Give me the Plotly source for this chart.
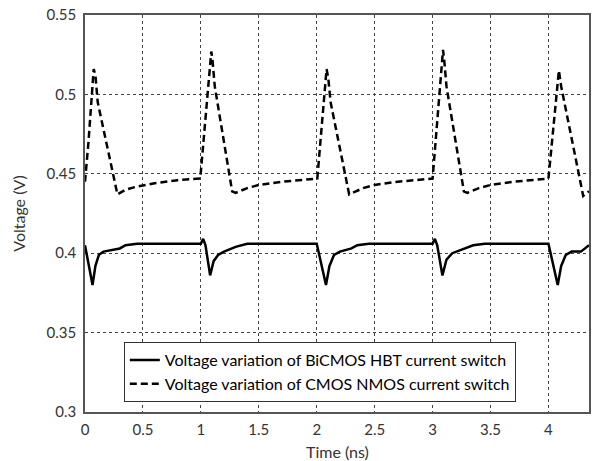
import plotly.graph_objects as go

# BiCMOS HBT current switch (solid)
hbt_t = [0.00, 0.065, 0.09, 0.12, 0.16, 0.25, 0.30, 0.35, 0.45, 1.00,
         1.02, 1.04, 1.08, 1.11, 1.15, 1.20, 1.30, 1.40, 2.00,
         2.08, 2.11, 2.15, 2.20, 2.30, 2.35, 2.45, 3.00,
         3.02, 3.04, 3.085, 3.12, 3.17, 3.25, 3.35, 3.45, 4.00,
         4.08, 4.11, 4.15, 4.20, 4.28, 4.35]
hbt_v = [0.405, 0.380, 0.392, 0.399, 0.401, 0.402, 0.403, 0.405, 0.406, 0.406,
         0.409, 0.405, 0.386, 0.395, 0.399, 0.401, 0.404, 0.406, 0.406,
         0.380, 0.392, 0.399, 0.401, 0.403, 0.405, 0.406, 0.406,
         0.409, 0.405, 0.386, 0.396, 0.400, 0.402, 0.405, 0.406, 0.406,
         0.380, 0.392, 0.399, 0.401, 0.401, 0.405]

# CMOS NMOS current switch (dashed)
nmos_t = [0.00, 0.03, 0.075, 0.09, 0.11, 0.28, 0.35, 0.45, 0.60, 0.80, 0.995,
          1.09, 1.10, 1.12, 1.27, 1.30, 1.40, 1.50, 1.70, 2.005,
          2.085, 2.10, 2.12, 2.28, 2.40, 2.50, 2.70, 3.00,
          3.09, 3.10, 3.12, 3.27, 3.30, 3.40, 3.50, 3.70, 4.00,
          4.09, 4.11, 4.30, 4.35]
nmos_v = [0.445, 0.470, 0.516, 0.512, 0.495, 0.437, 0.440, 0.442, 0.444, 0.446, 0.447,
          0.527, 0.522, 0.505, 0.439, 0.438, 0.441, 0.443, 0.445, 0.447,
          0.516, 0.510, 0.495, 0.437, 0.441, 0.443, 0.445, 0.447,
          0.528, 0.522, 0.505, 0.439, 0.438, 0.441, 0.443, 0.445, 0.447,
          0.515, 0.505, 0.436, 0.439]

x_ticks = [0, 0.5, 1, 1.5, 2, 2.5, 3, 3.5, 4]
y_ticks = [0.3, 0.35, 0.4, 0.45, 0.5, 0.55]

FONT = "Lato, Open Sans, sans-serif"

fig = go.Figure()
fig.add_trace(go.Scatter(x=hbt_t, y=hbt_v, mode="lines",
                         name="Voltage variation of BiCMOS HBT current switch",
                         line=dict(color="black", width=2.5)))
fig.add_trace(go.Scatter(x=nmos_t, y=nmos_v, mode="lines",
                         name="Voltage variation of CMOS NMOS current switch",
                         line=dict(color="black", width=2.5, dash="7px,4px")))

axis_common = dict(showline=True, mirror=True, linecolor="#555555", linewidth=1.5,
                   showgrid=True, gridcolor="#444444", griddash="dot", gridwidth=1,
                   zeroline=False, ticks="", automargin=False, ticklabeloverflow="allow",
                   tickfont=dict(family=FONT, size=15, color="#333333"))

# page body has an 8px default margin: the figure is offset by 8px in the window
fig.update_layout(
    width=595, height=453,
    margin=dict(l=77, r=14, t=7, b=49),
    paper_bgcolor="white", plot_bgcolor="white",
    font=dict(family=FONT, color="#333333"),
    xaxis=dict(range=[0, 4.35], tickvals=x_ticks, ticktext=[str(v) for v in x_ticks],
               ticklabelstandoff=3, **axis_common),
    yaxis=dict(range=[0.3, 0.55], tickvals=y_ticks, ticktext=[f"{v:g}" for v in y_ticks],
               ticklabelstandoff=4,
               title=dict(text="Voltage (V)", font=dict(size=16), standoff=17), **axis_common),
    legend=dict(x=0.077, y=0.176, xanchor="left", yanchor="top",
                bgcolor="white", bordercolor="#333333", borderwidth=1,
                font=dict(family=FONT, size=16, color="black"),
                tracegroupgap=0),
    annotations=[dict(text="Time (ns)", xref="paper", yref="paper", x=0.5, y=-0.1,
                      xanchor="center", yanchor="middle", showarrow=False,
                      font=dict(family=FONT, size=16, color="#333333"))],
    showlegend=True,
)

fig.write_html("out.html")
